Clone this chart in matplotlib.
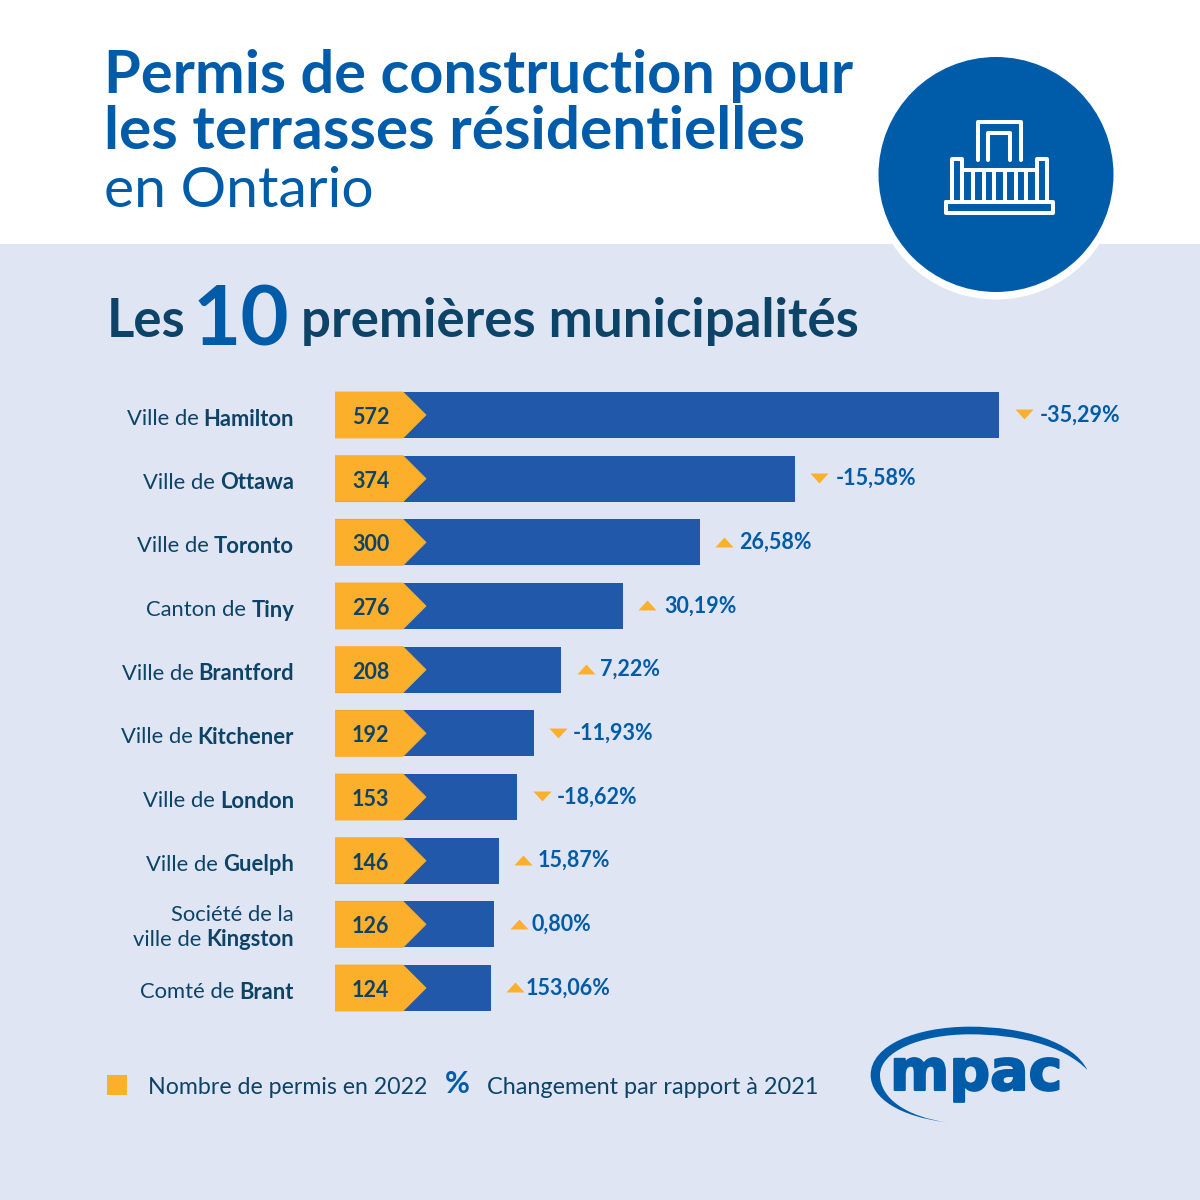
import matplotlib
matplotlib.use('Agg')
import matplotlib.pyplot as plt
import matplotlib.patheffects as pe
from matplotlib.patches import Circle, PathPatch, Polygon, Rectangle
from matplotlib.path import Path

# couleurs
BLUE = '#005CA9'
BAR_BLUE = '#2258A9'
DARK = '#0D4367'
ORANGE = '#FBAF2B'
BG = '#E0E5F3'

# donnees
prefixes = ['Ville de', 'Ville de', 'Ville de', 'Canton de', 'Ville de', 'Ville de',
            'Ville de', 'Ville de', 'Société de la\nville de', 'Comté de']
names = ['Hamilton', 'Ottawa', 'Toronto', 'Tiny', 'Brantford', 'Kitchener',
         'London', 'Guelph', 'Kingston', 'Brant']
permits = [572, 374, 300, 276, 208, 192, 153, 146, 126, 124]
# longueur dessinee des barres (pas proportionnelle aux permis dans l'original)
bar_lengths = [572, 396, 314, 248, 195, 171, 157, 141, 137, 134]
changes = [-35.29, -15.58, 26.58, 30.19, 7.22, -11.93, -18.62, 15.87, 0.80, 153.06]
change_labels = ['-35,29%', '-15,58%', '26,58%', '30,19%', '7,22%', '-11,93%',
                 '-18,62%', '15,87%', '0,80%', '153,06%']

plt.rcParams['font.family'] = ['Lato', 'DejaVu Sans']

fig = plt.figure(figsize=(12, 12), dpi=100)

# fond en pixels
bg = fig.add_axes([0, 0, 1, 1])
bg.set_xlim(0, 1200)
bg.set_ylim(1200, 0)
bg.axis('off')
bg.add_patch(Rectangle((0, 0), 1200, 244, color='white', lw=0))
bg.add_patch(Rectangle((0, 244), 1200, 956, color=BG, lw=0))

# titre
bg.text(104, 93, 'Permis de construction pour', color=BLUE, fontsize=42.8, fontweight='bold', va='baseline')
bg.text(104, 149, 'les terrasses résidentielles', color=BLUE, fontsize=43.5, fontweight='bold', va='baseline')
bg.text(104, 207, 'en Ontario', color=BLUE, fontsize=41, fontweight='normal', va='baseline')

# rond + icone
bg.add_patch(Circle((996, 175), 124.5, color='white', lw=0))
bg.add_patch(Circle((996, 174.5), 117.5, color=BLUE, lw=0))


def icon_line(pts):
    xs = [860 + p[0] / 3 for p in pts]
    ys = [40 + p[1] / 3 for p in pts]
    bg.plot(xs, ys, color='white', lw=2.9, solid_joinstyle='round', solid_capstyle='round')


icon_line([(355, 360), (355, 245), (482, 245), (482, 360)])
icon_line([(385, 360), (385, 280), (450, 280), (450, 360)])
icon_line([(275, 485), (275, 358), (307, 358), (307, 485)])
icon_line([(530, 485), (530, 358), (562, 358), (562, 485)])
icon_line([(307, 390), (530, 390)])
for bx in [340, 372, 403, 435, 467, 498]:
    icon_line([(bx, 390), (bx, 485)])
icon_line([(258, 487), (580, 487), (580, 520), (258, 520), (258, 487)])

# sous-titre
bg.text(107, 337, 'Les', color=DARK, fontsize=38, fontweight='bold', va='baseline')
bg.text(193, 345, '10', color=BLUE, fontsize=60, fontweight='bold', va='baseline')
bg.text(301, 337, 'premières municipalités', color=DARK, fontsize=38, fontweight='bold', va='baseline')

# barres
PX = 1.161
Y0 = 415.0
DY = 63.67
ax = fig.add_axes([335 / 1200, (1200 - (Y0 + 9.5 * DY)) / 1200, 865 / 1200, 10 * DY / 1200])
ax.set_xlim(0, 865 / PX)
ax.set_ylim(9.5, -0.5)
ax.axis('off')
ax.patch.set_alpha(0)

rows = list(range(len(permits)))
ax.barh(rows, bar_lengths, height=46 / DY, color=BAR_BLUE, lw=0)

TAG = 68 / PX
TIP = 91 / PX
# axe y inverse ici mais les marqueurs sont en coordonnees ecran
up = Path([(-1, -0.55), (1, -0.55), (0, 0.55), (-1, -0.55)])
down = Path([(-1, 0.55), (1, 0.55), (0, -0.55), (-1, 0.55)])
gaps = [16, 16, 15, 17, 14, 15, 15, 14, 13, 11]
for i in rows:
    h = 0.5 * 46 / DY
    # contour orange fin pour cacher le bord bleu de la barre
    ax.add_patch(Polygon([(0, i - h), (TAG, i - h), (TIP, i), (TAG, i + h), (0, i + h)],
                         facecolor=ORANGE, edgecolor=ORANGE, lw=0.6))
    ax.text(17 / PX, i + 0.04, str(permits[i]), color=DARK, fontsize=15.5, fontweight='bold', va='center')
    mx = bar_lengths[i] + 24.5 / PX
    ax.plot([mx], [i - 0.01], marker=down if changes[i] < 0 else up, ms=13, color=ORANGE, mew=0)
    ax.text(mx + gaps[i] / PX, i, change_labels[i], color=BLUE, fontsize=15.5,
            fontweight='bold', va='center')

# noms des municipalites
fig.canvas.draw()
renderer = fig.canvas.get_renderer()
for i in rows:
    yc = Y0 + i * DY
    lines = prefixes[i].split('\n')
    if len(lines) > 1:
        yc += 15.5
        bg.text(294, yc - 25, lines[0], color=DARK, fontsize=15.8, ha='right', va='center')
    else:
        yc += 4
    t = bg.text(294, yc, names[i], color=DARK, fontsize=15.8, fontweight='bold', ha='right', va='center')
    w = t.get_window_extent(renderer).width
    bg.text(294 - w - 5, yc, lines[-1], color=DARK, fontsize=15.8, ha='right', va='center')

# legende
bg.add_patch(Rectangle((107, 1075), 20, 20, color=ORANGE, lw=0))
bg.text(148, 1087.5, 'Nombre de permis en 2022', color=DARK, fontsize=16.7, va='center')
bg.text(445, 1084, '%', color=BLUE, fontsize=22, fontweight='bold', va='center')
bg.text(487, 1087.5, 'Changement par rapport à 2021', color=DARK, fontsize=16.9, va='center')

# logo
def lg(p):
    return (860 + p[0] / 3, 1015 + p[1] / 3)


swoosh = [(260, 322), (120, 305), (32, 250), (32, 180), (32, 90), (170, 35), (330, 35),
          (490, 35), (640, 80), (682, 165), (610, 90), (470, 58), (330, 58),
          (180, 58), (60, 110), (60, 180), (60, 250), (140, 305), (260, 322)]
codes = [Path.MOVETO] + [Path.CURVE4] * 18
bg.add_patch(PathPatch(Path([lg(p) for p in swoosh], codes), color=BLUE, lw=0))
bg.text(890, 1090, 'mpac', color=BLUE, fontsize=41, fontweight='bold', family='DejaVu Sans', va='baseline',
        path_effects=[pe.withStroke(linewidth=1.5, foreground=BLUE)])

fig.savefig('out.png', dpi=100, facecolor='white')
